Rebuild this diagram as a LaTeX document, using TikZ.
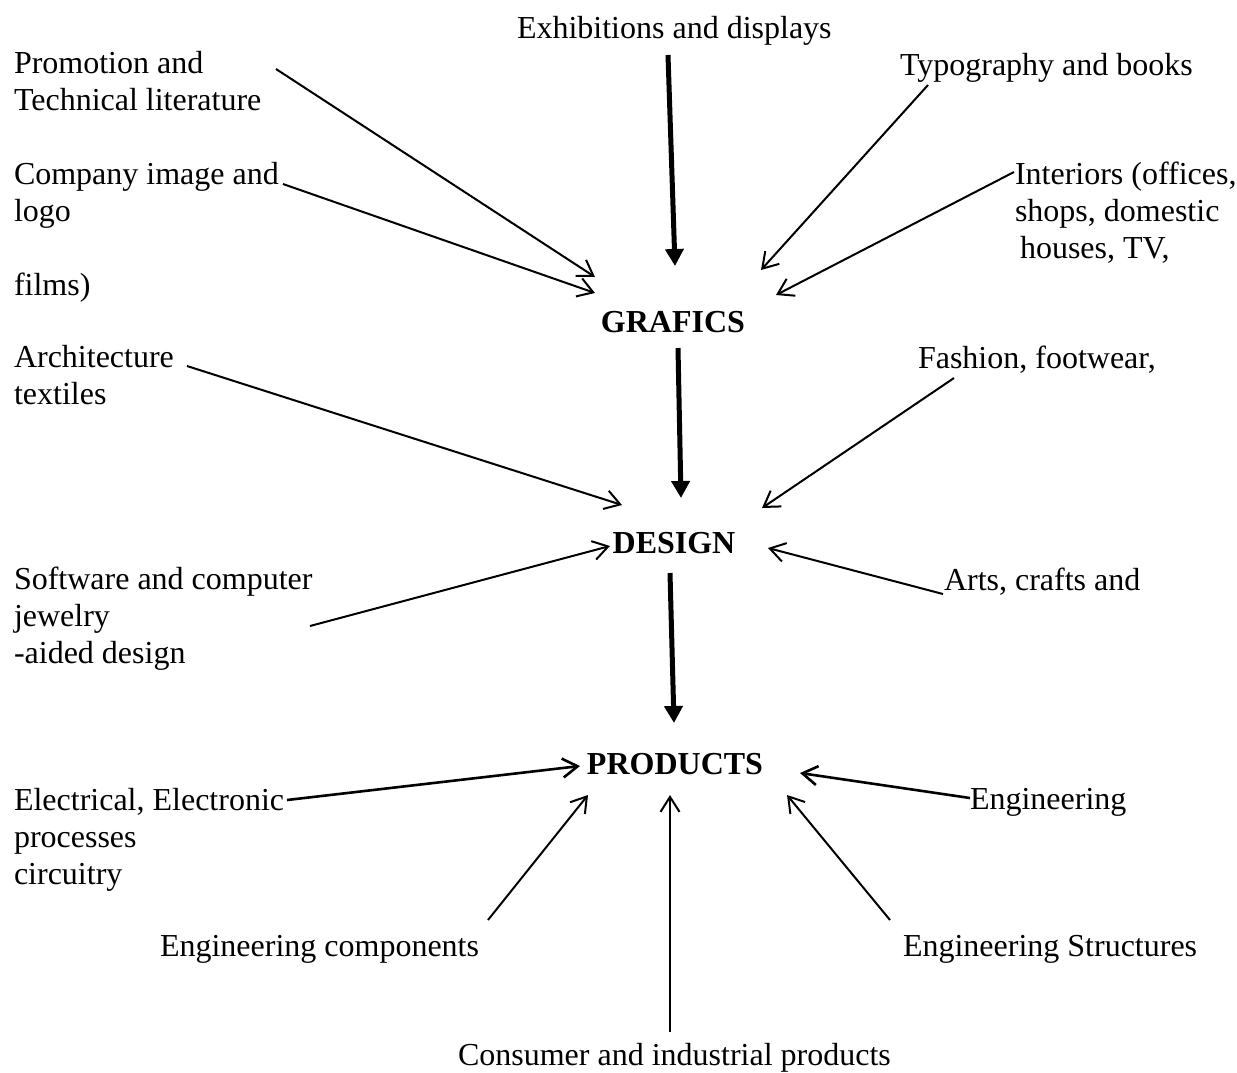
\documentclass[tikz,border=0pt]{standalone}
\usepackage{fontspec}
\setmainfont{Liberation Serif}
\usetikzlibrary{arrows.meta}
\begin{document}
\begin{tikzpicture}[x=1pt,y=-1pt,
  lbl/.style={inner sep=0pt, outer sep=0pt, align=left, anchor=base west, font=\fontsize{32}{36.8}\selectfont},
  hub/.style={inner sep=0pt, outer sep=0pt, anchor=base, font=\fontsize{32}{36.8}\selectfont\bfseries},
  thin/.style={line width=2pt, -{Straight Barb[length=15pt,width=19pt]}},
  thinb/.style={line width=2.6pt, -{Straight Barb[length=15pt,width=19pt]}},
  thick/.style={line width=5pt, -{Triangle[length=17pt,width=18pt]}}]
\useasboundingbox (0,0) rectangle (1237,1072);
% hubs
\node[hub] (graf) at (673,332) {GRAFICS};
\node[hub] (des) at (674,553) {DESIGN};
\node[hub] (prod) at (675,774) {PRODUCTS};
% labels (multi-line labels are anchored at the baseline of their last line)
\node[lbl] (exh) at (517,38) {Exhibitions and displays};
\node[lbl] (promo) at (14,110) {Promotion and\\Technical literature};
\node[lbl] (typo) at (900,75) {Typography and books};
\node[lbl] (comp) at (14,221) {Company image and\\logo};
\node[lbl] (inter) at (1015,258) {Interiors (offices,\\shops, domestic\\\hspace*{5pt}houses, TV,};
\node[lbl] (films) at (14,295) {films)};
\node[lbl] (arch) at (14,404) {Architecture\\textiles};
\node[lbl] (fash) at (918,368) {Fashion, footwear,};
\node[lbl] (soft) at (14,663) {Software and computer\\jewelry\\-aided design};
\node[lbl] (arts) at (944,590) {Arts, crafts and};
\node[lbl] (elec) at (14,884) {Electrical, Electronic\\processes\\circuitry};
\node[lbl] (eng) at (970,809) {Engineering};
\node[lbl] (engc) at (160,956) {Engineering components};
\node[lbl] (engs) at (903,956) {Engineering Structures};
\node[lbl] (cons) at (458,1065) {Consumer and industrial products};
% connector end points
\coordinate (a1s) at (668,55);  \coordinate (a1e) at (675,266);
\coordinate (a2s) at (678,348); \coordinate (a2e) at (681,498);
\coordinate (a3s) at (670,573); \coordinate (a3e) at (674,723);
\coordinate (p1s) at (276,69);  \coordinate (p1e) at (595,277);
\coordinate (p2s) at (283,184); \coordinate (p2e) at (595,293);
\coordinate (p3s) at (928,85);  \coordinate (p3e) at (761,270);
\coordinate (p4s) at (1014,172);\coordinate (p4e) at (776,295);
\coordinate (p5s) at (187,366); \coordinate (p5e) at (622,505);
\coordinate (p6s) at (954,378); \coordinate (p6e) at (762,508);
\coordinate (p7s) at (310,626); \coordinate (p7e) at (610,546);
\coordinate (p8s) at (943,594); \coordinate (p8e) at (768,548);
\coordinate (p9s) at (287,800); \coordinate (p9e) at (580,766);
\coordinate (p10s) at (970,798);\coordinate (p10e) at (800,773);
\coordinate (p11s) at (488,920);\coordinate (p11e) at (588,795);
\coordinate (p12s) at (670,1032);\coordinate (p12e) at (670,795);
\coordinate (p13s) at (890,920);\coordinate (p13e) at (787,795);
% thick arrows
\draw[thick] (a1s) -- (a1e);
\draw[thick] (a2s) -- (a2e);
\draw[thick] (a3s) -- (a3e);
% thin arrows
\draw[thin] (p1s) -- (p1e);
\draw[thin] (p2s) -- (p2e);
\draw[thin] (p3s) -- (p3e);
\draw[thin] (p4s) -- (p4e);
\draw[thin] (p5s) -- (p5e);
\draw[thin] (p6s) -- (p6e);
\draw[thin] (p7s) -- (p7e);
\draw[thin] (p8s) -- (p8e);
\draw[thinb] (p9s) -- (p9e);
\draw[thinb] (p10s) -- (p10e);
\draw[thin] (p11s) -- (p11e);
\draw[thin] (p12s) -- (p12e);
\draw[thin] (p13s) -- (p13e);
\end{tikzpicture}
\end{document}
